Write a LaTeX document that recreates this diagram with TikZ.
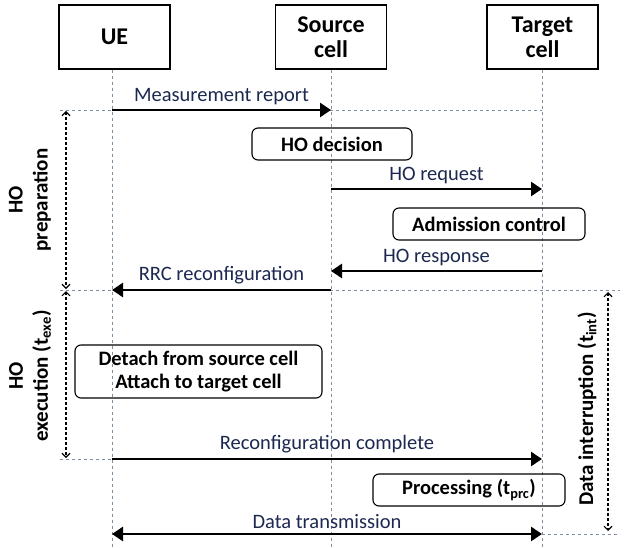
\documentclass[tikz,border=0pt]{standalone}
\usepackage{fontspec}
\setmainfont{Carlito}
\usetikzlibrary{arrows.meta}
\definecolor{msgtext}{HTML}{1C2850}
\definecolor{lifegray}{HTML}{7F8DA0}
\tikzset{
    actor/.style={rectangle, draw, line width=1.1pt, minimum width=111pt, minimum height=64pt, align=center, font=\fontsize{24}{25}\selectfont\bfseries}
}
\tikzset{
    procbox/.style={rectangle, rounded corners=6pt, draw, line width=1.1pt, minimum height=32pt, align=center, font=\fontsize{20.5}{23}\selectfont\bfseries}
}
\tikzset{msg/.style={line width=2.6pt, -{Triangle[length=11pt,width=14pt]}}}
\tikzset{msglabel/.style={midway, above=1pt, text=msgtext, font=\fontsize{20.5}{23}\selectfont}}
\tikzset{life/.style={lifegray, dashed, line width=0.9pt}}
\tikzset{span/.style={densely dashed, line width=1.1pt, {Straight Barb[length=4pt,width=8pt]}-{Straight Barb[length=4pt,width=8pt]}}}
\tikzset{phase/.style={rotate=90, align=center, font=\fontsize{21}{25}\selectfont\bfseries}}

\begin{document}
\begin{tikzpicture}[x=1pt,y=-1pt]
  \useasboundingbox (0,0) rectangle (626,548);

  % entities and lifelines
  \node (ue) [actor] at (114.5,37) {UE};
  \node (src) [actor] at (331,37) {Source\\cell};
  \node (tgt) [actor] at (542.5,37) {Target\\cell};
  \coordinate (ueEnd) at (112,548);
  \coordinate (srcEnd) at (331,548);
  \coordinate (tgtEnd) at (542,548);
  \draw [life] (ue.south -| ueEnd) -- (ueEnd);
  \draw [life] (src.south) -- (srcEnd);
  \draw [life] (tgt.south -| tgtEnd) -- (tgtEnd);

  % message ends
  \coordinate (ue1) at (112,110);
  \coordinate (src1) at (331,110);
  \coordinate (tgt1) at (542,110);
  \coordinate (src2) at (331,189);
  \coordinate (tgt2) at (542,189);
  \coordinate (tgt3) at (542,271);
  \coordinate (src3) at (331,271);
  \coordinate (src4) at (331,290);
  \coordinate (ue4) at (112,290);
  \coordinate (ue5) at (112,459);
  \coordinate (tgt5) at (542,459);
  \coordinate (ue6) at (112,534);
  \coordinate (tgt6) at (542,534);

  % phase borders
  \coordinate (l1) at (60,110);
  \coordinate (l2) at (60,290);
  \coordinate (r2) at (620,290);
  \coordinate (l3) at (60,459);
  \coordinate (r6) at (620,534);
  \draw [life] (l1) -- (tgt1);
  \draw [life] (l2) -- (r2);
  \draw [life] (l3) -- (ue5);
  \draw [life] (tgt6) -- (r6);

  % processing steps
  \node (decision) [procbox, minimum width=160pt] at (332,144) {HO decision};
  \node (admission) [procbox, minimum width=192pt] at (489,224) {Admission control};
  \node (detach) [procbox, minimum width=247pt, minimum height=53pt] at (198.5,371.5) {Detach from source cell\\Attach to target cell};
  \node (processing) [procbox, minimum width=192pt] at (469,490) {Processing (t\textsubscript{prc})};

  % messages
  \draw [msg] (ue1) -- (src1) node [msglabel] {Measurement report};
  \draw [msg] (src2) -- (tgt2) node [msglabel] {HO request};
  \draw [msg] (tgt3) -- (src3) node [msglabel] {HO response};
  \draw [msg] (src4) -- (ue4) node [msglabel] {RRC reconfiguration};
  \draw [msg] (ue5) -- (tgt5) node [msglabel] {Reconfiguration complete};
  \draw [msg, {Triangle[length=11pt,width=14pt]}-{Triangle[length=11pt,width=14pt]}] (ue6) -- (tgt6) node [msglabel] {Data transmission};

  % durations
  \coordinate (p1) at (66,111);
  \coordinate (p2) at (66,289);
  \coordinate (e1) at (66,291);
  \coordinate (e2) at (66,458);
  \coordinate (i1) at (608,292);
  \coordinate (i2) at (608,531);
  \draw [span] (p1) -- (p2);
  \draw [span] (e1) -- (e2);
  \draw [span] (i1) -- (i2);
  \node (prep) [phase] at (30,200) {HO\\preparation};
  \node (exec) [phase] at (30,376) {HO\\execution (t\textsubscript{exe})};
  \node (intr) [phase] at (587,409) {Data interruption (t\textsubscript{int})};
\end{tikzpicture}
\end{document}
